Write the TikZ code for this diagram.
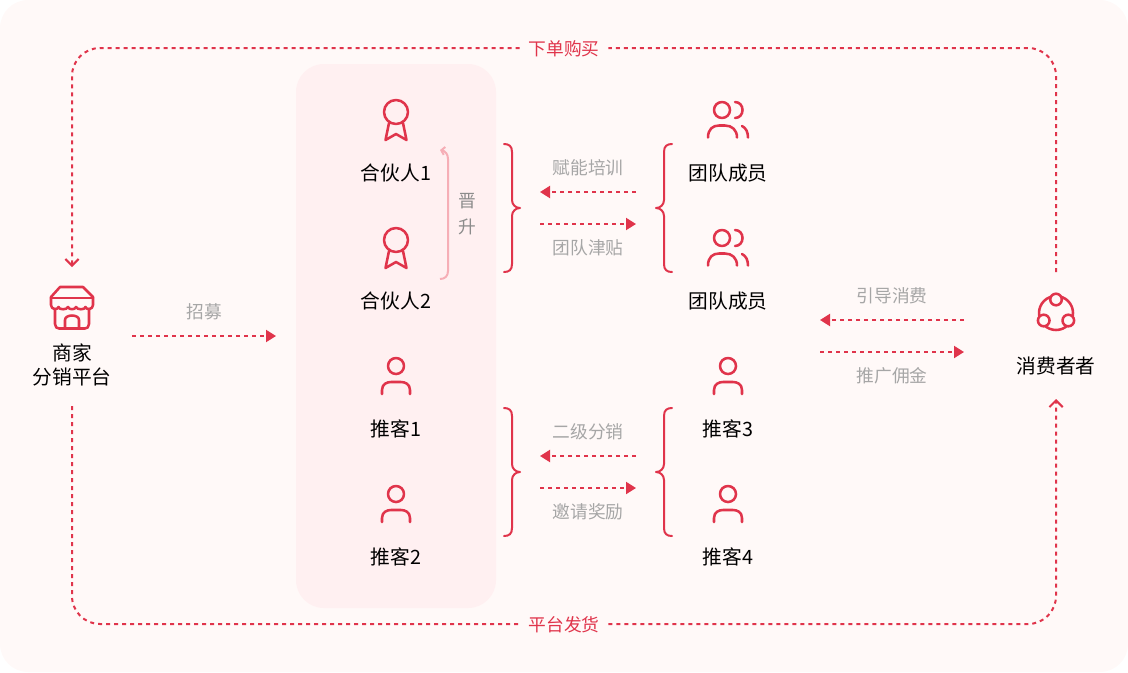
\documentclass[tikz,border=0pt]{standalone}
\usepackage{xcolor}
\usepackage{fontspec}
\setmainfont{Noto Sans CJK SC}
\usetikzlibrary{arrows.meta,positioning}
\definecolor{vred}{HTML}{E0344B}
\definecolor{vpink}{HTML}{F6AEB6}
\definecolor{vwash}{HTML}{FFF9F8}
\definecolor{vpanel}{HTML}{FFF0F1}
\definecolor{vgrey}{HTML}{A6A6A6}
\definecolor{vgreyb}{HTML}{8C8C8C}

\begin{document}
\begin{tikzpicture}[x=0.75pt,y=-0.75pt,
  ink/.style={draw=vred,line width=1.9pt,line cap=round,line join=round},
  who/.style={font=\fontsize{14.8}{18}\selectfont,text=black,align=center,inner sep=0pt},
  note/.style={font=\fontsize{13.3}{18}\selectfont,text=vgrey,inner sep=0pt},
  halt/.style={font=\fontsize{13.3}{18}\selectfont,text=vred,inner sep=0pt,minimum width=66pt,text height=13.5pt,text depth=3pt},
  arr/.style={-{Triangle[length=7.5pt,width=9pt]},draw=vred,line width=1.5pt,dash pattern=on 3pt off 3pt},
  tour/.style={-{Straight Barb[length=5pt,width=10pt]},draw=vred,line width=1.5pt,dash pattern=on 3pt off 3pt,rounded corners=21pt},
  medal/.pic={
    \draw[ink] (0,0) circle (12);
    \draw[ink] (-7,11) -- (-10.5,28) -- (0,22) -- (10.5,28) -- (7,11);
  },
  person/.pic={
    \draw[ink] (0,-11) circle (8);
    \draw[ink] (-14,17) -- (-14,13) .. controls (-14,7) and (-9,5) .. (-5,5) -- (5,5) .. controls (9,5) and (14,7) .. (14,13) -- (14,17);
  },
  crew/.pic={
    \draw[ink] (-6,-11) circle (8);
    \draw[ink] (-20,16.5) .. controls (-20,8) and (-15,4.5) .. (-9,4.5) -- (-3,4.5) .. controls (4,4.5) and (9,9) .. (9,16.5);
    \draw[ink] (7,-19) .. controls (17,-19) and (17,-3) .. (7,-3);
    \draw[ink] (14,5) .. controls (18,7) and (20,11) .. (20,16.5);
  },
  shopicon/.pic={
    \draw[ink] (-12,-21) -- (11,-21) -- (21,-11) -- (21,-3) .. controls (21,2) and (14,2) .. (13.5,-1) .. controls (13,2) and (5,2) .. (4,-1) .. controls (3,2) and (-3,2) .. (-4,-1) .. controls (-5,2) and (-13,2) .. (-13.5,-1) .. controls (-14,2) and (-21,2) .. (-21,-3) -- (-21,-11) -- cycle;
    \draw[ink] (-21,-10) -- (21,-10);
    \draw[ink] (-17,1) -- (-17,16) .. controls (-17,19) and (-15,20.5) .. (-13,20.5) -- (13,20.5) .. controls (15,20.5) and (17,19) .. (17,16) -- (17,1);
    \draw[ink] (-7,20) -- (-7,12) .. controls (-7,6) and (7,6) .. (7,12) -- (7,20);
  },
  ringicon/.pic={
    \draw[ink] (0,0) circle (17);
    \draw[ink,fill=vwash] (0,-13.5) circle (5.8);
    \draw[ink,fill=vwash] (-12.3,7.5) circle (5.8);
    \draw[ink,fill=vwash] (12.3,7.5) circle (5.8);
  },
  bracket/.pic={
    \draw[ink,line width=1.5pt] (-16,-64) .. controls (-11,-64) and (-8,-62) .. (-8,-56) -- (-8,-8) .. controls (-8,-3) and (-4,0) .. (0,0) .. controls (-4,0) and (-8,3) .. (-8,8) -- (-8,56) .. controls (-8,62) and (-11,64) .. (-16,64);
  }]
  \useasboundingbox (0,0) rectangle (1128,672);
  \fill[vwash,rounded corners=21pt] (0,0) rectangle (1128,672);

  \node[fill=vpanel,rounded corners=21pt,minimum width=150pt,minimum height=408pt,inner sep=0pt] (pool) at (396,336) {};

  % end points of the connectors
  \coordinate (shoptop) at (72,267);
  \coordinate (shopbot) at (72,406);
  \coordinate (constop) at (1056,272);
  \coordinate (consbot) at (1056,399);
  \coordinate (hirea) at (132,336);
  \coordinate (hireb) at (276,336);
  \coordinate (upa) at (540,192);
  \coordinate (upb) at (636,192);
  \coordinate (upc) at (540,224);
  \coordinate (upd) at (636,224);
  \coordinate (loa) at (540,456);
  \coordinate (lob) at (636,456);
  \coordinate (loc) at (540,488);
  \coordinate (lod) at (636,488);
  \coordinate (usea) at (820,320);
  \coordinate (useb) at (964,320);
  \coordinate (usec) at (820,352);
  \coordinate (used) at (964,352);

  \pic at (72,308) {shopicon};
  \node[who] (shop) at (72,365) {商家\\分销平台};
  \pic at (1056,313) {ringicon};
  \node[who] (cons) at (1056,366) {消费者者};

  \pic at (396,112) {medal};
  \node[who] (p1) at (396,173) {合伙人1};
  \pic at (396,240) {medal};
  \node[who] (p2) at (396,301) {合伙人2};
  \pic at (396,377) {person};
  \node[who] (k1) at (396,429) {推客1};
  \pic at (396,505) {person};
  \node[who] (k2) at (396,557) {推客2};

  \pic at (728,121) {crew};
  \node[who] (t1) at (728,173) {团队成员};
  \pic at (728,249) {crew};
  \node[who] (t2) at (728,301) {团队成员};
  \pic at (728,377) {person};
  \node[who] (k3) at (728,429) {推客3};
  \pic at (728,505) {person};
  \node[who] (k4) at (728,557) {推客4};

  \pic at (520,208) {bracket};
  \pic at (520,472) {bracket};
  \pic[xscale=-1] at (656,208) {bracket};
  \pic[xscale=-1] at (656,472) {bracket};

  \node[halt] (buy) at (564,48) {下单购买};
  \node[halt] (ship) at (564,624) {平台发货};
  \draw[tour] (constop) |- (buy) -| (shoptop);
  \draw[tour] (shopbot) |- (ship) -| (consbot);

  \draw[arr] (hirea) -- (hireb);
  \node[note] (hire) at (204,312) {招募};
  \draw[arr] (upb) -- (upa);
  \draw[arr] (upc) -- (upd);
  \node[note] (train) at (588,168) {赋能培训};
  \node[note] (bonus) at (588,248) {团队津贴};
  \draw[arr] (lob) -- (loa);
  \draw[arr] (loc) -- (lod);
  \node[note] (resale) at (588,432) {二级分销};
  \node[note] (invite) at (588,512) {邀请奖励};
  \draw[arr] (useb) -- (usea);
  \draw[arr] (usec) -- (used);
  \node[note] (guide) at (892,296) {引导消费};
  \node[note] (promo) at (892,376) {推广佣金};

  \coordinate (risea) at (440,279);
  \coordinate (riseb) at (440,150);
  \draw[draw=vpink,line width=1.5pt,-{Straight Barb[length=2.5pt,width=6pt]}] (risea) .. controls (445,279) and (448,276) .. (448,271) -- (448,159) .. controls (448,154) and (445,151) .. (riseb);
  \node[note,text=vgreyb,align=center] (rise) at (467,214) {晋\\[1pt]升};
\end{tikzpicture}
\end{document}
